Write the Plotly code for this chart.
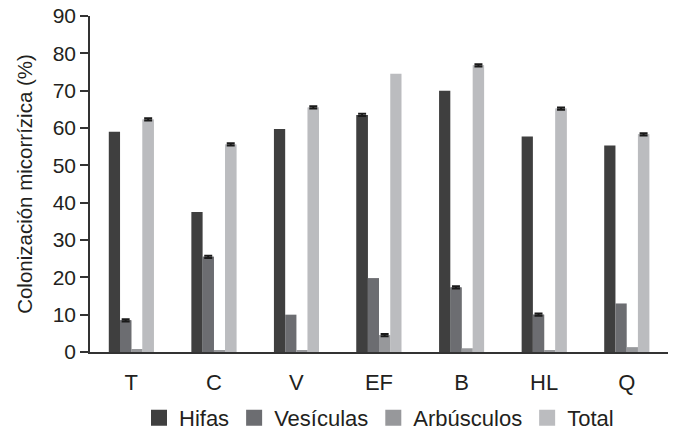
import plotly.graph_objects as go

# Treatments on the x axis
categories = ["T", "C", "V", "EF", "B", "HL", "Q"]

# Mycorrhizal colonization (%) by structure
hifas = [59.0, 37.5, 59.7, 63.5, 70.0, 57.7, 55.3]
vesiculas = [8.5, 25.5, 10.0, 19.8, 17.3, 10.0, 13.0]
arbusculos = [0.8, 0.3, 0.3, 4.5, 1.0, 0.5, 1.3]
total = [62.3, 55.6, 65.5, 74.5, 76.8, 65.2, 58.3]

# Standard errors (None where no bar is reported)
err_hifas = [None, None, None, 0.3, None, None, None]
err_vesiculas = [0.3, 0.3, None, None, 0.3, 0.3, None]
err_arbusculos = [None, None, None, 0.3, None, None, None]
err_total = [0.3, 0.3, 0.3, None, 0.3, 0.3, 0.3]

series = [
    ("Hifas", hifas, err_hifas, "#3f3f3f"),
    ("Vesículas", vesiculas, err_vesiculas, "#6c6d71"),
    ("Arbúsculos", arbusculos, err_arbusculos, "#97989b"),
    ("Total", total, err_total, "#bbbcbf"),
]

FONT = "Liberation Sans, Arial, Helvetica, sans-serif"
INK = "#231f20"

fig = go.Figure()
for name, vals, errs, color in series:
    fig.add_trace(go.Bar(
        x=categories, y=vals, name=name, marker_color=color,
        marker_line_width=0, showlegend=False, offsetgroup=name,
    ))
    # Same bars again, only where an error is reported, carrying the caps
    fig.add_trace(go.Bar(
        x=categories,
        y=[v if e is not None else None for v, e in zip(vals, errs)],
        name=name, marker_color=color, marker_line_width=0,
        showlegend=False, offsetgroup=name, hoverinfo="skip",
        error_y=dict(type="data",
                     array=[e if e is not None else 0 for e in errs],
                     visible=True, color="#1a1a1a", thickness=2, width=4),
    ))
# Legend entries with larger square swatches
for name, vals, errs, color in series:
    fig.add_trace(go.Scatter(
        x=[None], y=[None], mode="markers", name=name,
        marker=dict(symbol="square", size=19, color=color),
    ))

fig.update_layout(
    width=675, height=430,
    margin=dict(l=90, r=7, t=16, b=78, autoexpand=False),
    paper_bgcolor="white", plot_bgcolor="white",
    barmode="group", bargap=0.455, bargroupgap=0,
    font=dict(family=FONT, size=21, color=INK),
    legend=dict(orientation="h", x=0.5, xanchor="center",
                y=-0.196, yanchor="middle", font=dict(size=22),
                itemclick=False, bgcolor="rgba(0,0,0,0)"),
)
fig.update_xaxes(
    showline=True, linecolor="#333333", linewidth=1.5,
    ticks="outside", ticklen=10, tickcolor="rgba(0,0,0,0)",
    showgrid=False, zeroline=False,
    tickfont=dict(size=22),
)
fig.update_yaxes(
    range=[0, 90], dtick=10, showline=True, linecolor="#333333",
    linewidth=1.5, ticks="outside", ticklen=8, tickwidth=1.5,
    tickcolor="#333333", showgrid=False, zeroline=False,
    tickfont=dict(size=21),
    title=dict(text="Colonización micorrízica (%)", font=dict(size=20.5),
               standoff=15),
)

fig.write_html("out.html")
